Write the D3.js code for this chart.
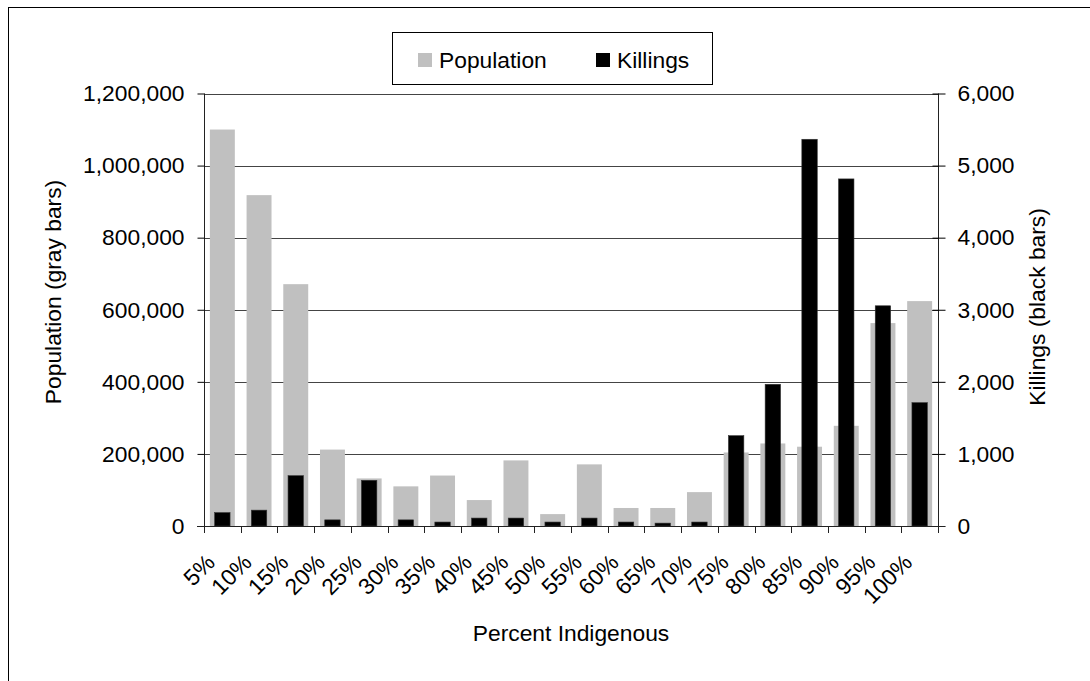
<!DOCTYPE html>
<html>
<head>
<meta charset="utf-8">
<script src="https://cdn.jsdelivr.net/npm/d3@7"></script>
<style>
  body { margin: 0; background: #fff; }
  text { font-family: "Liberation Sans", Arial, sans-serif; fill: #000; }
</style>
</head>
<body>
<div id="chart"></div>
<script>
// chart values
var categories = ['5%', '10%', '15%', '20%', '25%', '30%', '35%', '40%', '45%', '50%',
  '55%', '60%', '65%', '70%', '75%', '80%', '85%', '90%', '95%', '100%']
var population = [1100000, 918000, 671000, 212000, 132000, 110000, 140000, 72000, 182000, 33000,
  171000, 50000, 50000, 94000, 204000, 229000, 220000, 278000, 563000, 624000]
var killings = [186, 220, 698, 85, 634, 85, 55, 110, 110, 55,
  110, 55, 40, 55, 1253, 1966, 5365, 4815, 3055, 1711]
var popTicks = [0, 200000, 400000, 600000, 800000, 1000000, 1200000]
var killTicks = [0, 1000, 2000, 3000, 4000, 5000, 6000]
var legendItems = [['Population', '#c0c0c0'], ['Killings', '#000']]

var width = 1090
var height = 681
var plot = { left: 204, right: 938, top: 93.5, bottom: 526 }
var fontSize = '22.8px'

var svg = d3.select('#chart')
  .append('svg')
  .attr('width', width)
  .attr('height', height)

// outer frame
svg.append('rect')
  .attr('x', 8.5)
  .attr('y', 7.5)
  .attr('width', 1200)
  .attr('height', 800)
  .attr('fill', 'none')
  .attr('stroke', '#000')

var x = d3.scaleBand()
  .domain(categories)
  .range([plot.left, plot.right])
  .padding(0)

var yPop = d3.scaleLinear().domain([0, 1200000]).range([plot.bottom, plot.top])
var yKill = d3.scaleLinear().domain([0, 6000]).range([plot.bottom, plot.top])

var fmt = d3.format(',')

// gridlines
svg.append('g')
  .selectAll('line')
  .data(popTicks.slice(1))
  .enter()
  .append('line')
  .attr('x1', plot.left)
  .attr('x2', plot.right)
  .attr('y1', function(d) { return Math.round(yPop(d)) + 0.5 })
  .attr('y2', function(d) { return Math.round(yPop(d)) + 0.5 })
  .attr('stroke', '#444')

// bars
var bw = x.bandwidth()
var grayW = bw * 0.68
var blackW = bw * 0.42

svg.append('g')
  .selectAll('rect')
  .data(population)
  .enter()
  .append('rect')
  .attr('x', function(d, i) { return x(categories[i]) + (bw - grayW) / 2 })
  .attr('width', grayW)
  .attr('y', function(d) { return yPop(d) })
  .attr('height', function(d) { return plot.bottom - yPop(d) })
  .attr('fill', '#c0c0c0')

svg.append('g')
  .selectAll('rect')
  .data(killings)
  .enter()
  .append('rect')
  .attr('x', function(d, i) { return x(categories[i]) + (bw - blackW) / 2 })
  .attr('width', blackW)
  .attr('y', function(d) { return yKill(d) })
  .attr('height', function(d) { return plot.bottom - yKill(d) })
  .attr('fill', '#000')
  .attr('stroke', '#333')
  .attr('stroke-width', 0.6)

// left axis
var leftAxis = svg.append('g')
  .attr('transform', 'translate(' + (plot.left + 0.5) + ',0)')
  .call(d3.axisLeft(yPop).tickValues(popTicks).tickFormat(fmt).tickSize(7).tickPadding(13))
leftAxis.select('.domain').attr('stroke', '#222').attr('d', 'M0,' + plot.top + 'V' + plot.bottom)
leftAxis.selectAll('text').style('font-size', fontSize).style('font-family', '"Liberation Sans", Arial, sans-serif')

// right axis
var rightAxis = svg.append('g')
  .attr('transform', 'translate(' + (plot.right + 0.5) + ',0)')
  .call(d3.axisRight(yKill).tickValues(killTicks).tickFormat(fmt).tickSize(7).tickPadding(12))
rightAxis.select('.domain').attr('stroke', '#222').attr('d', 'M0,' + plot.top + 'V' + plot.bottom)
rightAxis.selectAll('.tick line').attr('x1', -6)
rightAxis.selectAll('text').style('font-size', fontSize).style('font-family', '"Liberation Sans", Arial, sans-serif')

// bottom axis: ticks between categories
var bottom = svg.append('g')
bottom.append('line')
  .attr('x1', plot.left - 7)
  .attr('x2', plot.right + 7)
  .attr('y1', plot.bottom + 0.5)
  .attr('y2', plot.bottom + 0.5)
  .attr('stroke', '#222')
bottom.selectAll('.xtick')
  .data(categories.concat(['end']))
  .enter()
  .append('line')
  .attr('class', 'xtick')
  .attr('x1', function(d, i) { return Math.round(plot.left + i * bw) + 0.5 })
  .attr('x2', function(d, i) { return Math.round(plot.left + i * bw) + 0.5 })
  .attr('y1', plot.bottom)
  .attr('y2', plot.bottom + 7)
  .attr('stroke', '#222')

bottom.selectAll('.xlabel')
  .data(categories)
  .enter()
  .append('text')
  .attr('class', 'xlabel')
  .attr('text-anchor', 'end')
  .attr('transform', function(d) {
    return 'translate(' + (x(d) + bw / 2 - 6) + ',' + (plot.bottom + 38) + ') rotate(-45)'
  })
  .style('font-size', fontSize)
  .text(function(d) { return d })

// axis titles
svg.append('text')
  .attr('text-anchor', 'middle')
  .attr('x', (plot.left + plot.right) / 2)
  .attr('y', 641)
  .style('font-size', fontSize)
  .text('Percent Indigenous')

svg.append('text')
  .attr('text-anchor', 'middle')
  .attr('transform', 'translate(61,292) rotate(-90)')
  .style('font-size', fontSize)
  .text('Population (gray bars)')

svg.append('text')
  .attr('text-anchor', 'middle')
  .attr('transform', 'translate(1045,307) rotate(-90)')
  .style('font-size', fontSize)
  .text('Killings (black bars)')

// legend
var legend = svg.append('g')
legend.append('rect')
  .attr('x', 392.5)
  .attr('y', 32.5)
  .attr('width', 320)
  .attr('height', 52)
  .attr('fill', '#fff')
  .attr('stroke', '#000')

var legendX = [418, 596]
legendItems.forEach(function(item, i) {
  legend.append('rect')
    .attr('x', legendX[i])
    .attr('y', 53)
    .attr('width', 14)
    .attr('height', 14)
    .attr('fill', item[1])
  legend.append('text')
    .attr('x', legendX[i] + 21)
    .attr('y', 67.5)
    .style('font-size', fontSize)
    .text(item[0])
})
</script>
</body>
</html>
